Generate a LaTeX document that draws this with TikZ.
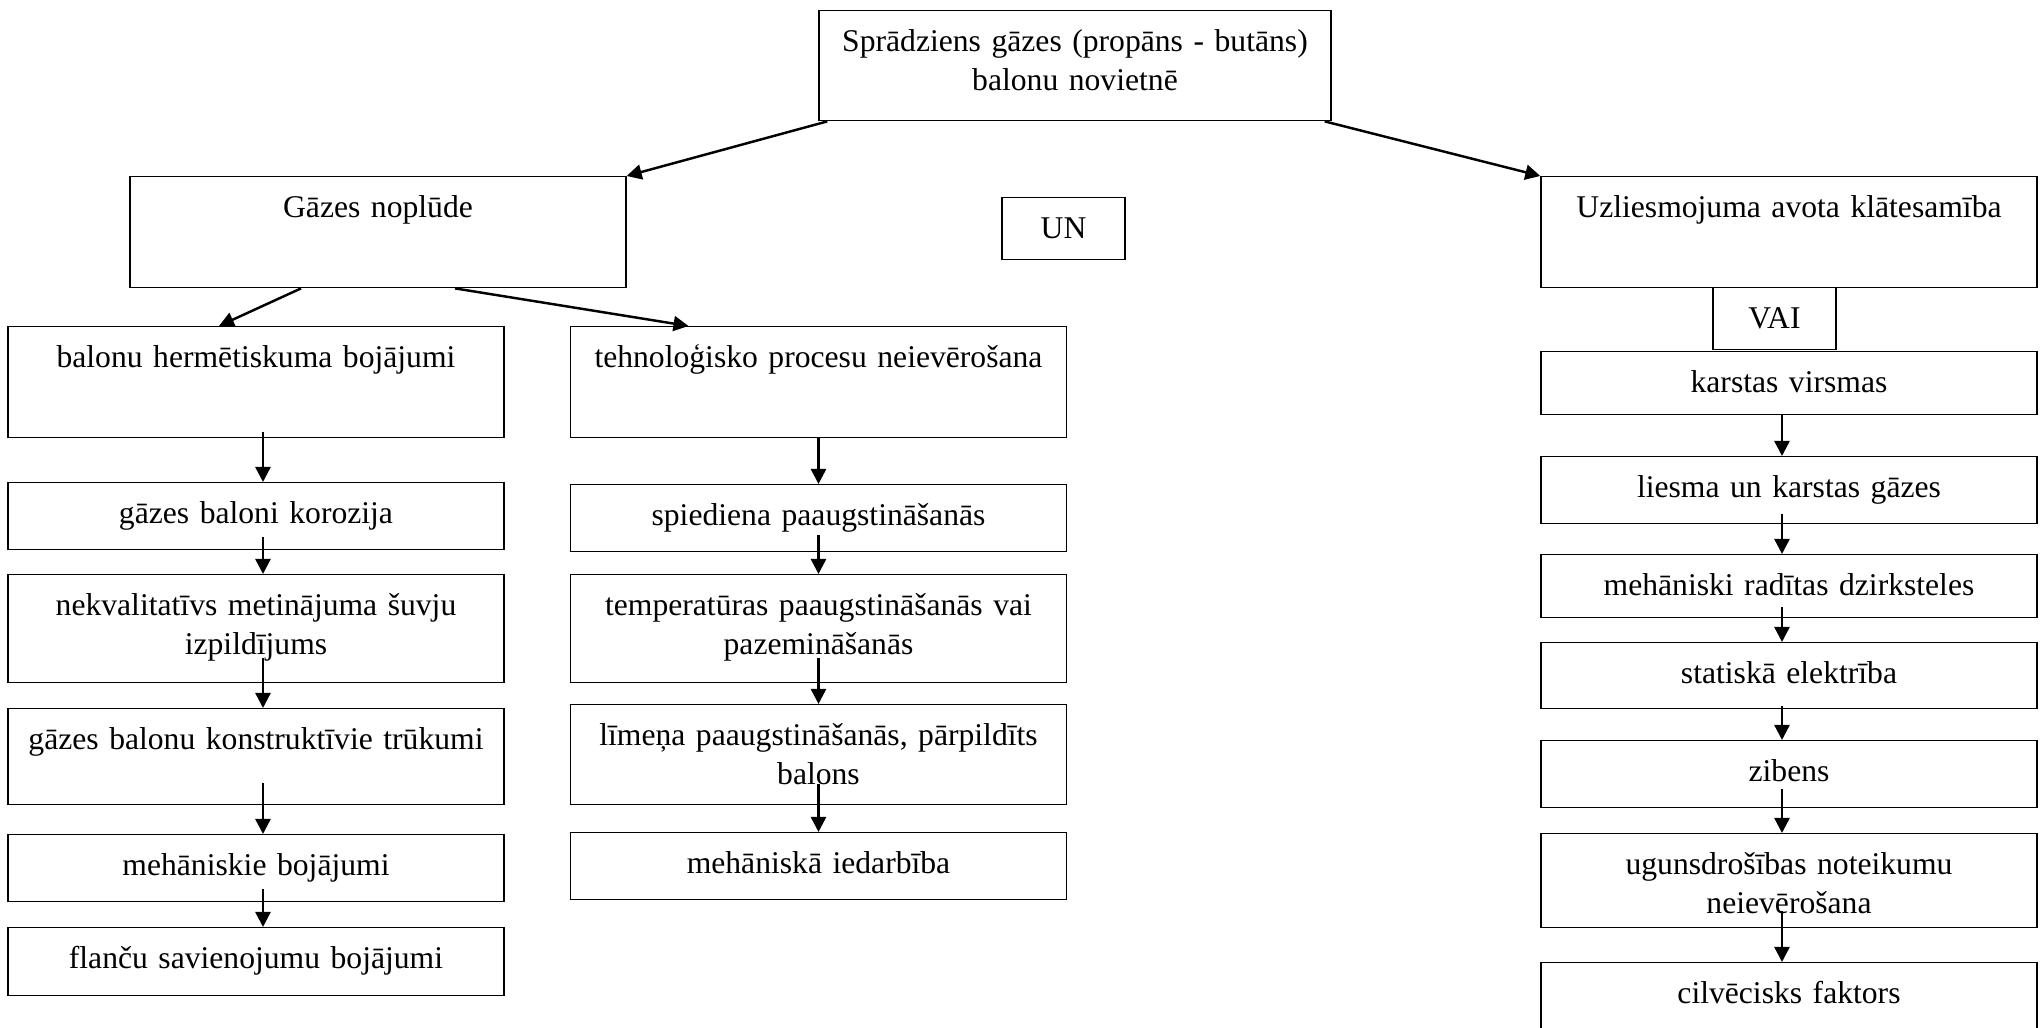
\documentclass[tikz,border=0pt]{standalone}
\usepackage{fontspec}
\setmainfont{Liberation Serif}
\usepackage{tikz}
\usetikzlibrary{
    arrows.meta,
    positioning
}

\tikzset{
    box/.style={draw, line width=0.4pt, rectangle, anchor=north, align=center,
        font=\fontsize{9pt}{11.2pt}\selectfont,
        inner xsep=0.5mm, inner ysep=1mm, text width=48.6mm,
        text height=3.05mm, text depth=#1},
    gate/.style={box=#1, text width=11.3mm},
    topbox/.style={box=#1, text width=50.2mm}
}

\begin{document}
\begin{tikzpicture}[x=0.1mm, y=-0.1mm, >={Triangle[length=1.5mm, width=1.5mm]}, line width=0.7pt]
                        \useasboundingbox (0, 0) rectangle (2044, 1028);

                        \node[topbox=5.95mm] (top) at (1075, 10) {Sprādziens gāzes (propāns - butāns)\\ balonu novietnē};
                        \node[box=6.05mm] (gas) at (378, 176) {Gāzes noplūde};
                        \node[gate=1.15mm] (un) at (1063.5, 197) {UN};
                        \node[box=6.05mm] (ign) at (1789, 176) {Uzliesmojuma avota klātesamība};
                        \node[gate=1.15mm] (vai) at (1774.5, 287) {VAI};

                        \node[box=6.05mm] (leak) at (256, 326) {balonu hermētiskuma bojājumi};
                        \node[box=1.65mm] (corr) at (256, 482) {gāzes baloni korozija};
                        \node[box=5.75mm] (weld) at (256, 574) {nekvalitatīvs metinājuma šuvju\\ izpildījums};
                        \node[box=4.55mm] (constr) at (256, 708) {gāzes balonu konstruktīvie trūkumi};
                        \node[box=1.65mm] (mech) at (256, 834) {mehāniskie bojājumi};
                        \node[box=1.75mm] (flange) at (256, 927) {flanču savienojumu bojājumi};

                        \node[box=6.05mm] (proc) at (818.5, 326) {tehnoloģisko procesu neievērošana};
                        \node[box=1.65mm] (press) at (818.5, 484) {spiediena paaugstināšanās};
                        \node[box=5.75mm] (temp) at (818.5, 574) {temperatūras paaugstināšanās vai\\ pazemināšanās};
                        \node[box=4.95mm] (level) at (818.5, 704) {līmeņa paaugstināšanās, pārpildīts\\ balons};
                        \node[box=1.65mm] (impact) at (818.5, 832) {mehāniskā iedarbība};

                        \node[box=1.25mm] (hot) at (1789, 351) {karstas virsmas};
                        \node[box=1.65mm] (flame) at (1789, 456) {liesma un karstas gāzes};
                        \node[box=1.25mm] (spark) at (1789, 554) {mehāniski radītas dzirksteles};
                        \node[box=1.55mm] (static) at (1789, 642) {statiskā elektrība};
                        \node[box=1.65mm] (light) at (1789, 740) {zibens};
                        \node[box=4.35mm] (rules) at (1789, 833) {ugunsdrošības noteikumu\\ neievērošana};
                        \node[box=3.45mm] (human) at (1789, 962) {cilvēcisks faktors};

                        \draw
                        ([shift={(9, 0)}]top.south west) edge[->] (gas.north east)
                        ([shift={(-7, 0)}]top.south east) edge[->] (ign.north west)
                        ([shift={(-77, 0)}]gas.south) edge[->] ([shift={(-37, 0)}]leak.north)
                        ([shift={(77, 0)}]gas.south) edge[->] ([shift={(-130, 0)}]proc.north)
                        ([shift={(7, -6)}]leak.south) edge[->] ([shift={(7, 0)}]corr.north)
                        ([shift={(7, -13)}]corr.south) edge[->] ([shift={(7, 0)}]weld.north)
                        ([shift={(7, -25)}]weld.south) edge[->] ([shift={(7, 0)}]constr.north)
                        ([shift={(7, -22)}]constr.south) edge[->] ([shift={(7, 0)}]mech.north)
                        ([shift={(7, -13)}]mech.south) edge[->] ([shift={(7, 0)}]flange.north)
                        (proc.south) edge[->] (press.north)
                        ([shift={(0, -17)}]press.south) edge[->] (temp.north)
                        ([shift={(0, -25)}]temp.south) edge[->] (level.north)
                        ([shift={(0, -21)}]level.south) edge[->] (impact.north)
                        ([shift={(-7, 0)}]hot.south) edge[->] ([shift={(-7, 0)}]flame.north)
                        ([shift={(-7, -10)}]flame.south) edge[->] ([shift={(-7, 0)}]spark.north)
                        ([shift={(-7, -11)}]spark.south) edge[->] ([shift={(-7, 0)}]static.north)
                        ([shift={(-7, -3)}]static.south) edge[->] ([shift={(-7, 0)}]light.north)
                        ([shift={(-7, -19)}]light.south) edge[->] ([shift={(-7, 0)}]rules.north)
                        ([shift={(-7, -17)}]rules.south) edge[->] ([shift={(-7, 0)}]human.north);
                    \end{tikzpicture}
\end{document}
